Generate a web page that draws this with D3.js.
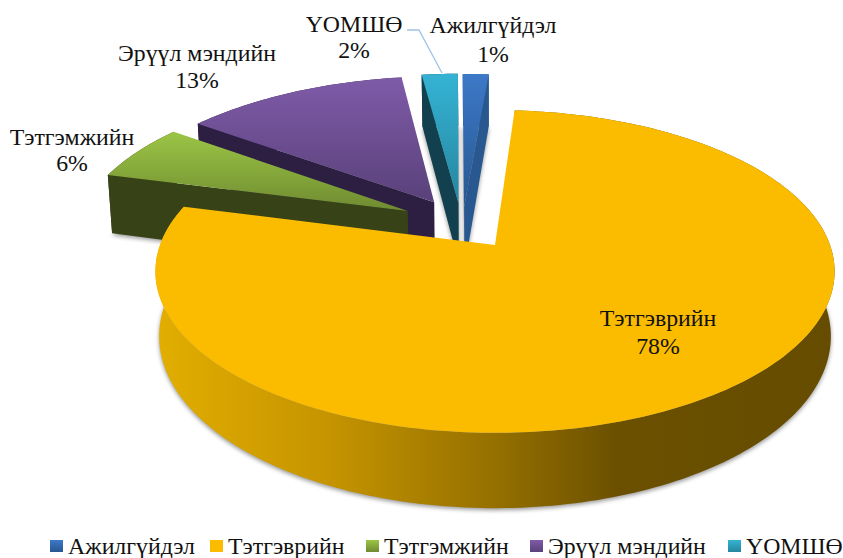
<!DOCTYPE html>
<html>
<head>
<meta charset="utf-8">
<script src="https://cdnjs.cloudflare.com/ajax/libs/d3/7.8.5/d3.min.js"></script>
<style>
  html, body { margin: 0; background: #fff; }
  text { font-family: "Liberation Serif", serif; font-size: 23.8px; fill: #111; }
</style>
</head>
<body>
<div id="chart"></div>
<script>
// Data
const categories = ["Ажилгүйдэл", "Тэтгэврийн", "Тэтгэмжийн", "Эрүүл мэндийн", "ҮОМШӨ"];
// unrounded estimates, labels show them rounded
const shares = [1.4, 78, 5.9, 12.7, 2];

// Colours per category
const topLight = ["#3d79c8", "#fbbc00", "#9cc545", "#7f5ba8", "#35b3d4"];
const topDark = ["#27578f", "#fbbc00", "#6f8b31", "#59417a", "#25869f"];
const wallColor = ["#28588f", "#94700a", "#374217", "#2d1f42", "#13404e"];

// How far each slice is pulled out of the pie, in disc units
const explode = [[-0.096, -0.25], [0, 0], [-0.27, -0.225], [-0.19, -0.285], [-0.114, -0.279]];
const sliceRadius = [1.075, 1, 1.01, 1.02, 1.05];

// Label anchors (centre x, first baseline, second baseline)
const labelPos = [[493, 33, 62], [658, 326, 354], [72, 145, 171], [197, 61, 88], [354, 32, 58]];
const legendBoxX = [50, 210, 366, 530, 728];
const legendTextX = [68, 228, 384, 548, 746];

const width = 843;
const height = 558;

// Perspective for the tilted disc
const cx = 495, cy = 245;
const rx = 335, ry = 157, persp = 0.164, depth = 63;

function project(u, v, z) {
    const w = 1 / (1 - persp * v);
    return [
        cx + rx * u * w * (1 - 0.011 * z),
        cy + (ry * v + depth * z) * w
    ];
}

const pie = d3.pie()
    .sort(null)
    .startAngle(-1.14 * Math.PI / 180)
    .endAngle(358.86 * Math.PI / 180);

const arcs = pie(shares);

const svg = d3.select("#chart")
    .append("svg")
    .attr("width", width)
    .attr("height", height);

const defs = svg.append("defs");

defs.append("filter")
    .attr("id", "blur")
    .attr("x", "-20%").attr("y", "-20%")
    .attr("width", "140%").attr("height", "140%")
    .append("feGaussianBlur")
    .attr("stdDeviation", 2.2);

categories.forEach((c, i) => {
    const g = defs.append("linearGradient")
        .attr("id", "top" + i)
        .attr("x1", 0).attr("y1", 0).attr("x2", 0).attr("y2", 1);
    g.append("stop").attr("offset", "0%").attr("stop-color", topLight[i]);
    g.append("stop").attr("offset", "100%").attr("stop-color", topDark[i]);
});

// Side of the big slice goes from bright on the left to dark on the right
const wallGrad = defs.append("linearGradient")
    .attr("id", "wallBig")
    .attr("gradientUnits", "userSpaceOnUse")
    .attr("x1", 155).attr("y1", 0).attr("x2", 835).attr("y2", 0);
[[0, "#e2ae00"], [0.25, "#c69500"], [0.5, "#957000"], [0.68, "#6b5000"], [1, "#664c00"]].forEach(s => {
    wallGrad.append("stop").attr("offset", s[0]).attr("stop-color", s[1]);
});

const line = d3.line();

function sliceGeometry(d, i) {
    const [ou, ov] = explode[i];
    const r = sliceRadius[i];
    const steps = Math.max(4, Math.ceil((d.endAngle - d.startAngle) / 0.02));
    const angles = d3.range(steps + 1).map(k => d.startAngle + (d.endAngle - d.startAngle) * k / steps);
    const rim = angles.map(a => [ou + r * Math.sin(a), ov - r * Math.cos(a)]);
    return { apex: [ou, ov], rim };
}

const at = z => p => project(p[0], p[1], z);

// Ground shadow first
const slices = arcs.map((d, i) => ({ i, geo: sliceGeometry(d, i) }));
svg.append("g")
    .selectAll("path")
    .data(slices)
    .enter()
    .append("path")
    .attr("d", d => line([d.geo.apex, ...d.geo.rim].map(at(1))) + "Z")
    .attr("transform", "translate(0,2)")
    .attr("fill", "#777")
    .attr("opacity", 0.75)
    .attr("filter", "url(#blur)");

// Back to front; the big slice covers the rest
[0, 4, 3, 2, 1].forEach(i => {
    const { apex, rim } = slices[i].geo;
    const g = svg.append("g");
    const wallFill = i === 1 ? "url(#wallBig)" : wallColor[i];

    // rim wall
    g.append("path")
        .attr("d", line([...rim.map(at(0)), ...rim.slice().reverse().map(at(1))]) + "Z")
        .attr("fill", wallFill);

    // cut faces, only the ones facing the viewer
    const startFace = [at(0)(apex), at(0)(rim[0]), at(1)(rim[0]), at(1)(apex)];
    const last = rim[rim.length - 1];
    const endFace = [at(0)(apex), at(0)(last), at(1)(last), at(1)(apex)];
    if (d3.polygonArea(startFace) > 0) {
        g.append("path").attr("d", line(startFace) + "Z").attr("fill", wallFill);
    }
    if (d3.polygonArea(endFace) < 0) {
        g.append("path").attr("d", line(endFace) + "Z").attr("fill", wallFill);
    }

    // top surface
    g.append("path")
        .attr("d", line([apex, ...rim].map(at(0))) + "Z")
        .attr("fill", "url(#top" + i + ")");
});

// Leader line for the small slice
svg.append("path")
    .attr("d", line([[407, 30], [419, 30], [442, 73]]))
    .attr("fill", "none")
    .attr("stroke", "#9dc3e6")
    .attr("stroke-width", 1.3);

// Data labels
const labels = svg.append("g")
    .selectAll("g")
    .data(categories)
    .enter()
    .append("g");

labels.append("text")
    .attr("x", (d, i) => labelPos[i][0])
    .attr("y", (d, i) => labelPos[i][1])
    .attr("text-anchor", "middle")
    .text(d => d);

labels.append("text")
    .attr("x", (d, i) => labelPos[i][0])
    .attr("y", (d, i) => labelPos[i][2])
    .attr("text-anchor", "middle")
    .text((d, i) => Math.round(shares[i]) + "%");

// Legend
const legend = svg.append("g")
    .selectAll("g")
    .data(categories)
    .enter()
    .append("g");

legend.append("rect")
    .attr("x", (d, i) => legendBoxX[i])
    .attr("y", 540)
    .attr("width", 13)
    .attr("height", 12)
    .attr("fill", (d, i) => "url(#top" + i + ")");

legend.append("text")
    .attr("x", (d, i) => legendTextX[i])
    .attr("y", 554)
    .text(d => d);
</script>
</body>
</html>
